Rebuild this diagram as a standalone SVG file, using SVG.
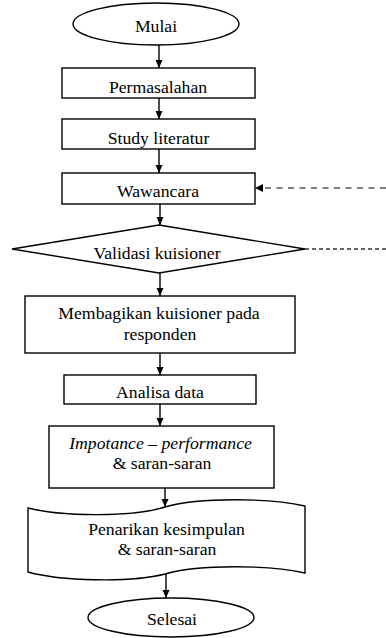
<svg xmlns="http://www.w3.org/2000/svg" width="386" height="638" viewBox="0 0 386 638">
<defs>
<marker id="ah" viewBox="0 0 8 8" refX="8" refY="4" markerWidth="8" markerHeight="8" markerUnits="userSpaceOnUse" orient="auto">
<path d="M0,0.5 L8,4 L0,7.5 Z" fill="#000"/>
</marker>
</defs>
<style>
.s{fill:#fff;stroke:#000;stroke-width:1.4}
.t{font-family:'Liberation Serif','Times New Roman',serif;font-size:17.7px;fill:#000;text-anchor:middle}
.c{stroke:#000;stroke-width:1.4;fill:none}
</style>
<rect width="386" height="638" fill="#fff"/>
<g id="connectors">
<line class="c" x1="159" y1="45" x2="159" y2="68" marker-end="url(#ah)"/>
<line class="c" x1="159" y1="98" x2="159" y2="119" marker-end="url(#ah)"/>
<line class="c" x1="159" y1="149" x2="159" y2="173" marker-end="url(#ah)"/>
<line class="c" x1="160" y1="204" x2="160" y2="225" marker-end="url(#ah)"/>
<line class="c" x1="160" y1="273" x2="160" y2="296" marker-end="url(#ah)"/>
<line class="c" x1="160" y1="353" x2="160" y2="375" marker-end="url(#ah)"/>
<line class="c" x1="160" y1="404" x2="160" y2="426" marker-end="url(#ah)"/>
<line class="c" x1="165" y1="488" x2="165" y2="507" marker-end="url(#ah)"/>
<line class="c" x1="166" y1="574" x2="166" y2="598" marker-end="url(#ah)"/>
<line x1="386" y1="188" x2="263" y2="188" stroke="#808080" stroke-width="2" stroke-dasharray="6 5.5"/>
<path d="M255,188 L263,184 L263,192 Z" fill="#000"/>
<line x1="305" y1="249" x2="386" y2="249" stroke="#333" stroke-width="1.3" stroke-dasharray="4 3"/>
</g>
<g id="mulai">
<ellipse class="s" cx="156" cy="24" rx="83" ry="21"/>
<text class="t" x="156" y="32">Mulai</text>
</g>
<g id="permasalahan">
<rect class="s" x="62" y="68" width="193" height="30"/>
<text class="t" x="158" y="92.5">Permasalahan</text>
</g>
<g id="study">
<rect class="s" x="62" y="119" width="193" height="30"/>
<text class="t" x="158.5" y="143.5">Study literatur</text>
</g>
<g id="wawancara">
<rect class="s" x="62" y="173" width="193" height="31"/>
<text class="t" x="158" y="196.5">Wawancara</text>
</g>
<g id="validasi">
<polygon class="s" points="159,225 305,249 159,273 12,249"/>
<text class="t" x="157" y="259">Validasi kuisioner</text>
</g>
<g id="membagikan">
<rect class="s" x="25" y="296" width="270" height="57"/>
<text class="t" x="159" y="319">Membagikan kuisioner pada</text>
<text class="t" x="160" y="339.5">responden</text>
</g>
<g id="analisa">
<rect class="s" x="64" y="375" width="192" height="29"/>
<text class="t" x="160" y="397.5">Analisa data</text>
</g>
<g id="ipa">
<rect class="s" x="49" y="426" width="225" height="62"/>
<text class="t" x="160.5" y="449" font-style="italic">Impotance – performance</text>
<text class="t" x="162" y="469">&amp; saran-saran</text>
</g>
<g id="penarikan">
<path class="s" d="M28,508 C60,516 130,518 165,507 C200,497 270,498 305,506 L305,573 C270,565 200,564 165,574 C130,583 60,581 28,572 Z"/>
<text class="t" x="166.5" y="535">Penarikan kesimpulan</text>
<text class="t" x="167" y="555">&amp; saran-saran</text>
</g>
<g id="selesai">
<ellipse class="s" cx="171" cy="617.5" rx="83" ry="19.5"/>
<text class="t" x="172" y="625">Selesai</text>
</g>
</svg>
